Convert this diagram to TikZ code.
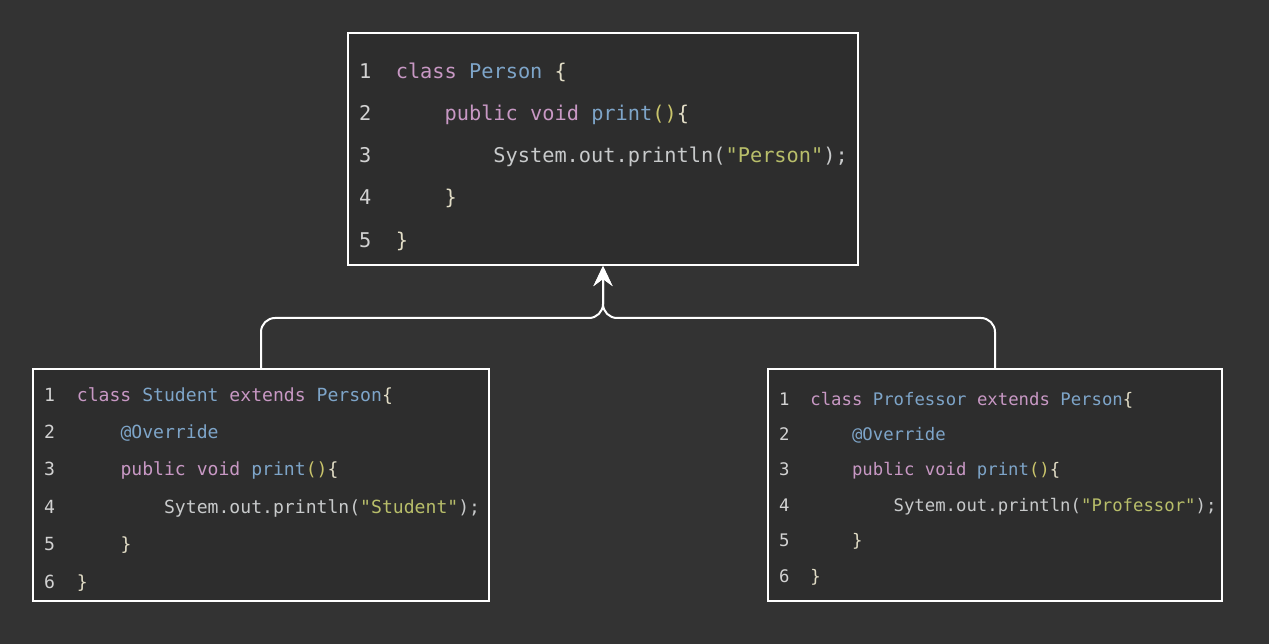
\documentclass[tikz,border=0pt]{standalone}
\usepackage{fontspec}
\usepackage{xcolor}
\usetikzlibrary{calc, positioning, arrows.meta}
\newfontfamily\codefont{DejaVu Sans Mono}

\definecolor{bgdark}{HTML}{333333}
\definecolor{boxfill}{HTML}{2D2D2D}
\definecolor{codefg}{HTML}{C8CACB}
\definecolor{numgray}{HTML}{D2D2D2}
\definecolor{kwpink}{HTML}{C898C4}
\definecolor{clsblue}{HTML}{7EA5C9}
\definecolor{strgreen}{HTML}{B8BE6A}
\definecolor{parenyel}{HTML}{C9C46B}
\definecolor{bracecol}{HTML}{E2DDC6}

% token colours
\newcommand\kw[1]{\textcolor{kwpink}{#1}}
\newcommand\cls[1]{\textcolor{clsblue}{#1}}
\newcommand\strg[1]{\textcolor{strgreen}{\char34 #1\char34}}
\newcommand\paren[1]{\textcolor{parenyel}{#1}}
\newcommand\brc[1]{\textcolor{bracecol}{#1}}

\begin{document}
\begin{tikzpicture}[x=1pt,y=-1pt,
    codebox/.style={draw=white, line width=2pt, fill=boxfill, inner sep=0pt, minimum height=232pt},
    code/.style={anchor=mid west, inner sep=0pt, text=codefg},
    num/.style={code, text=numgray},
    bigcode/.style={font=\codefont\fontsize{20.3pt}{24pt}\selectfont},
    stucode/.style={font=\codefont\fontsize{18.1pt}{22pt}\selectfont},
    procode/.style={font=\codefont\fontsize{17.3pt}{21pt}\selectfont},
    link/.style={draw=white, line width=2pt, rounded corners=14pt,
        -{Stealth[length=20pt, width=19pt, inset=7pt]}}]
    % Background
    \fill[bgdark] (0,0) rectangle (1269,644);

    % The three class boxes
    \node[codebox, minimum width=510pt] (person) at (603,149) {};
    \node[codebox, minimum width=456pt] (student) at (261,485) {};
    \node[codebox, minimum width=454pt] (professor) at (995,485) {};

    % Line numbers
    \foreach \n in {1,...,5}
        \node[num, bigcode] (pn\n) at (359,{34.4+42.1*\n}) {\n};
    \foreach \n in {1,...,6} {
        \node[num, stucode] (sn\n) at (44,{361.6+37.4*\n}) {\n};
        \node[num, procode] (rn\n) at (779,{367.6+35.4*\n}) {\n};
    }

    % Person
    \node[code, bigcode] (p1) at (395.6,76.5) {\kw{class} \cls{Person} \brc{\{}};
    \node[code, bigcode] (p2) at (444.4,118.6) {\kw{public void} \cls{print}\paren{()}\brc{\{}};
    \node[code, bigcode] (p3) at (493.2,160.7) {System.out.println(\strg{Person});};
    \node[code, bigcode] (p4) at (444.4,202.8) {\brc{\}}};
    \node[code, bigcode] (p5) at (395.6,244.9) {\brc{\}}};

    % Student
    \node[code, stucode] (s1) at (76.7,399) {\kw{class} \cls{Student} \kw{extends} \cls{Person}\brc{\{}};
    \node[code, stucode] (s2) at (120.3,436.4) {\cls{@Override}};
    \node[code, stucode] (s3) at (120.3,473.8) {\kw{public void} \cls{print}\paren{()}\brc{\{}};
    \node[code, stucode] (s4) at (163.9,511.2) {Sytem.out.println(\strg{Student});};
    \node[code, stucode] (s5) at (120.3,548.6) {\brc{\}}};
    \node[code, stucode] (s6) at (76.7,586) {\brc{\}}};

    % Professor
    \node[code, procode] (r1) at (810.2,403) {\kw{class} \cls{Professor} \kw{extends} \cls{Person}\brc{\{}};
    \node[code, procode] (r2) at (851.8,438.4) {\cls{@Override}};
    \node[code, procode] (r3) at (851.8,473.8) {\kw{public void} \cls{print}\paren{()}\brc{\{}};
    \node[code, procode] (r4) at (893.4,509.2) {Sytem.out.println(\strg{Professor});};
    \node[code, procode] (r5) at (851.8,544.6) {\brc{\}}};
    \node[code, procode] (r6) at (810.2,580) {\brc{\}}};

    % Inheritance arrows
    \coordinate (join) at ([yshift=-52pt]person.south);
    \draw[link] (student.north) |- (join) -- (person.south);
    \draw[link] (professor.north) |- (join) -- (person.south);
\end{tikzpicture}
\end{document}
